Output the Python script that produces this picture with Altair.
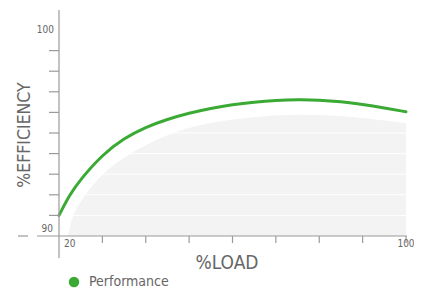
import altair as alt
import pandas as pd

# ---- data ----
perf_load = [20, 22.5, 25, 30, 35, 40, 45, 50, 55, 60, 65, 70, 75, 80, 85, 90, 95, 100]
perf_eff = [91.0, 92.02, 92.76, 93.95, 94.75, 95.29, 95.67, 95.97, 96.2, 96.38, 96.5,
            96.58, 96.62, 96.6, 96.52, 96.39, 96.22, 96.03]

band_load = [22.1, 22.6, 23.7, 26.75, 30.6, 34.5, 42.1, 49.8, 60.6, 74.8, 88.6, 100]
band_eff = [90.0, 90.6, 91.26, 92.23, 93.12, 93.77, 94.66, 95.31, 95.71, 95.96, 95.79, 95.47]

y_ticks = [91, 92, 93, 94, 95, 96, 97, 98, 99]
x_ticks = [30, 40, 50, 60, 70, 80, 90, 100]
y_labels = [100, 90]
x_labels = [20, 100]
series_name = "Performance"

# ---- layout constants ----
W, H = 406, 283
PXX = 4.3375   # px per % load
PXY = 20.6     # px per % efficiency
X_ORIGIN_PX = 51   # x of load 20 within view
Y90_PX = 228       # y of efficiency 90 within view
xmin = 20 - X_ORIGIN_PX / PXX
xmax = xmin + W / PXX
ymin = 90 - (H - Y90_PX) / PXY
ymax = ymin + H / PXY

FONT = "DejaVu Sans Condensed, Liberation Sans Narrow, sans-serif"
GREEN = "#3aaa35"
AXIS = "#9a9a9a"
TEXT = "#666666"

xs = alt.Scale(domain=[xmin, xmax], nice=False, zero=False)
ys = alt.Scale(domain=[ymin, ymax], nice=False, zero=False)

perf = pd.DataFrame({"load": perf_load, "eff": perf_eff, "series": series_name})
band = pd.DataFrame({"load": band_load, "eff": band_eff})

area = alt.Chart(band).mark_area(color="#f3f3f3", interpolate="basis").encode(
    x=alt.X("load:Q", scale=xs, axis=None),
    y=alt.Y("eff:Q", scale=ys, axis=None),
    y2=alt.Y2Datum(90),
)

grid = alt.Chart(pd.DataFrame({"eff": y_ticks})).mark_rule(color="white", strokeWidth=1).encode(
    x=alt.XDatum(20, scale=xs, axis=None),
    x2=alt.X2Datum(100),
    y=alt.Y("eff:Q", scale=ys, axis=None),
)

line = alt.Chart(perf).mark_line(interpolate="basis", strokeWidth=3, strokeCap="round").encode(
    x=alt.X("load:Q", scale=xs, axis=None),
    y=alt.Y("eff:Q", scale=ys, axis=None),
    color=alt.Color(
        "series:N",
        scale=alt.Scale(domain=[series_name], range=[GREEN]),
        legend=alt.Legend(
            title=None, orient="none", legendX=59, legendY=267, padding=0,
            symbolType="circle", symbolSize=110, symbolFillColor=GREEN,
            symbolStrokeWidth=0, symbolOpacity=1,
            labelFont=FONT, labelFontSize=14, labelColor=TEXT, labelOffset=8,
        ),
    ),
)

# y axis line
yaxis = alt.Chart(pd.DataFrame({"v": [0]})).mark_rule(color=AXIS, strokeWidth=1.2).encode(
    x=alt.XDatum(20, scale=xs, axis=None),
    y=alt.YDatum(90 - 22 / PXY, scale=ys, axis=None),
    y2=alt.Y2Datum(100 + 20 / PXY),
)
# x axis line and the short dash left of it
xaxis = alt.Chart(pd.DataFrame({"a": [20 - 22 / PXX, 20 - 41 / PXX], "b": [100.2, 20 - 31 / PXX]})).mark_rule(
    color=AXIS, strokeWidth=1.2
).encode(
    x=alt.X("a:Q", scale=xs, axis=None),
    x2="b:Q",
    y=alt.YDatum(90, scale=ys, axis=None),
)

ytick = alt.Chart(pd.DataFrame({"eff": y_ticks})).mark_rule(color=AXIS, strokeWidth=1.2).encode(
    x=alt.XDatum(20 - 10 / PXX, scale=xs, axis=None),
    x2=alt.X2Datum(20),
    y=alt.Y("eff:Q", scale=ys, axis=None),
)
xtick = alt.Chart(pd.DataFrame({"load": x_ticks})).mark_rule(color=AXIS, strokeWidth=1.2).encode(
    x=alt.X("load:Q", scale=xs, axis=None),
    y=alt.YDatum(90, scale=ys, axis=None),
    y2=alt.Y2Datum(90 - 7 / PXY),
)


def label(xv, yv, txt, align, dx, dy):
    return alt.Chart(pd.DataFrame({"t": [txt]})).mark_text(
        font=FONT, fontSize=10, color=TEXT, align=align, baseline="middle", dx=dx, dy=dy
    ).encode(
        x=alt.XDatum(xv, scale=xs, axis=None),
        y=alt.YDatum(yv, scale=ys, axis=None),
        text="t:N",
    )


ylab_top = label(20, y_labels[0], str(y_labels[0]), "right", -5, 0)
ylab_bot = label(20, y_labels[1], str(y_labels[1]), "right", -6, -7)
xlab_left = label(x_labels[0], 90, str(x_labels[0]), "left", 5, 8)
xlab_right = label(x_labels[1], 90, str(x_labels[1]), "center", 0, 8)

ytitle = alt.Chart(pd.DataFrame({"t": ["%EFFICIENCY"]})).mark_text(
    font=FONT, fontSize=17.5, color=TEXT, angle=270, align="center", baseline="middle"
).encode(x=alt.value(17), y=alt.value(127), text="t:N")

xtitle = alt.Chart(pd.DataFrame({"t": ["%LOAD"]})).mark_text(
    font=FONT, fontSize=19, color=TEXT, align="center", baseline="middle"
).encode(x=alt.value(219), y=alt.value(255), text="t:N")

chart = alt.layer(
    area, grid, line, yaxis, xaxis, ytick, xtick,
    ylab_top, ylab_bot, xlab_left, xlab_right, ytitle, xtitle,
).properties(
    width=W, height=H, autosize=alt.AutoSizeParams(type="none"), padding=0, background="white"
).configure_view(stroke=None)

chart.save("out.html", embed_options={"renderer": "svg", "actions": False})
